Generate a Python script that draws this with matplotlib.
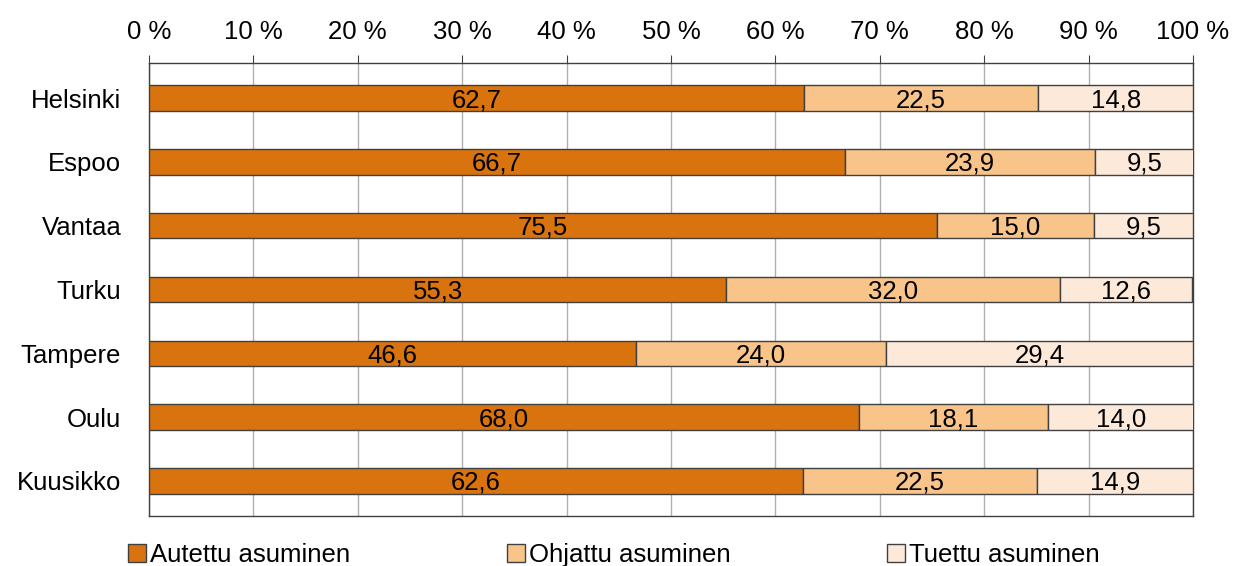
import numpy as np
import matplotlib.pyplot as plt

cities = ['Helsinki', 'Espoo', 'Vantaa', 'Turku', 'Tampere', 'Oulu', 'Kuusikko']
autettu = [62.7, 66.7, 75.5, 55.3, 46.6, 68.0, 62.6]
ohjattu = [22.5, 23.9, 15.0, 32.0, 24.0, 18.1, 22.5]
tuettu = [14.8, 9.5, 9.5, 12.6, 29.4, 14.0, 14.9]
series_names = ['Autettu asuminen', 'Ohjattu asuminen', 'Tuettu asuminen']
colors = ['#D9730D', '#F8C48A', '#FDE9DA']

plt.rcParams['font.family'] = ['Liberation Sans', 'DejaVu Sans']

fig = plt.figure(figsize=(12.35, 5.66), dpi=100)
ax = fig.add_axes([149/1235, 1 - 516/566, (1193-149)/1235, (516-63)/566])

y = np.arange(len(cities))
left = np.zeros(len(cities))
for vals, name, col in zip([autettu, ohjattu, tuettu], series_names, colors):
    ax.barh(y, vals, left=left, height=0.4, color=col, edgecolor='#404040',
            linewidth=1, label=name, zorder=3)
    for yi, l, v in zip(y, left, vals):
        ax.text(l + v / 2, yi + 0.03, f'{v:.1f}'.replace('.', ','), ha='center', va='center',
                fontsize=18.5, color='black', zorder=4)
    left = left + np.array(vals)

ax.set_xlim(0, 100)
ax.set_ylim(len(cities) - 0.45, -0.55)
ax.set_yticks(y)
ax.set_yticklabels(cities, fontsize=18.5)
ax.set_xticks(np.arange(0, 101, 10))
ax.set_xticklabels([f'{v} %' for v in range(0, 101, 10)], fontsize=18.5)
ax.xaxis.tick_top()
ax.tick_params(axis='x', direction='out', length=6, color='#404040', pad=8)
ax.tick_params(axis='y', length=0, pad=20)
ax.grid(axis='x', color='#b0b0b0', linewidth=1, zorder=0)
for s in ax.spines.values():
    s.set_color('#404040')
    s.set_linewidth(1)

h, l = ax.get_legend_handles_labels()
fig.legend(h, l, loc='lower center', bbox_to_anchor=(0.497, -0.043), ncol=3, frameon=False,
           fontsize=18.5, handlelength=0.7, handleheight=0.7, handletextpad=0.15,
           columnspacing=6.1)

fig.savefig('out.png', dpi=100)
